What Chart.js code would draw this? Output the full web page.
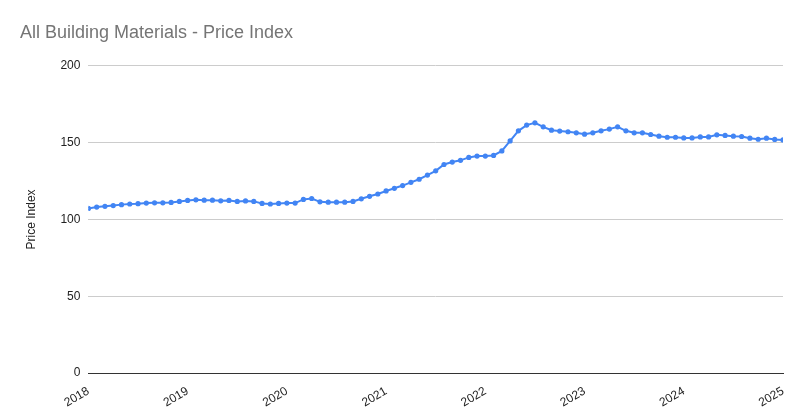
<!DOCTYPE html><html><head><script src="https://cdn.jsdelivr.net/npm/chart.js@4"></script>
<style>body{margin:0;background:#fff}#w{width:805px;height:419px;position:relative}</style></head><body><div id="w"><canvas id="c"></canvas></div>
<script>
const values=[107.1,108,108.5,109,109.6,110,110.2,110.6,110.8,110.8,111,111.7,
112.3,112.7,112.5,112.5,112.1,112.3,111.7,112,111.7,110.4,110,110.4,
110.6,110.6,113,113.6,111.4,111.2,111.2,111.2,111.7,113.4,115,116.5,
118.5,120.2,122,124.1,126.1,128.8,131.6,135.7,137.3,138.4,140.3,141.2,
141.2,141.6,144.5,151,157.6,161.3,162.8,160.2,158,157.4,157,156.3,
155.4,156.3,157.6,158.7,160.2,157.6,156.3,156.3,155.2,154.1,153.4,153.4,
153,153,153.6,153.6,155,154.6,154.1,153.9,152.8,152.1,152.8,152,151.7];
const yearTicks=['2018','2019','2020','2021','2022','2023','2024','2025'];
const pts=values.map((v,i)=>({x:2018+i/12,y:v}));
new Chart(document.getElementById('c'),{type:'scatter',data:{datasets:[{data:pts,showLine:true,borderColor:'#4285f4',backgroundColor:'#4285f4',borderWidth:2,pointRadius:1.6,tension:0}]},
options:{responsive:true,maintainAspectRatio:false,animation:false,layout:{padding:{left:20,right:22,top:8,bottom:6}},
plugins:{legend:{display:false},tooltip:{enabled:false},title:{display:true,text:'All Building Materials - Price Index',align:'start',color:'#757575',font:{family:'Liberation Sans, Arial',size:18,weight:'normal'},padding:{top:14,bottom:22}}},
scales:{x:{type:'linear',min:2018,max:2025,afterBuildTicks:a=>{a.ticks=yearTicks.map(t=>({value:+t}))},grid:{display:false},border:{color:'#333'},ticks:{color:'#222',font:{family:'Liberation Sans, Arial',size:12},maxRotation:30,minRotation:30,callback:v=>String(v)}},
y:{min:0,max:200,ticks:{stepSize:50,color:'#222',padding:8,font:{family:'Liberation Sans, Arial',size:12}},grid:{color:'#ccc',drawTicks:false},border:{display:false},title:{display:true,text:'Price Index',color:'#222',padding:{bottom:14},font:{family:'Liberation Sans, Arial',size:12}}}}}});
</script></body></html>
